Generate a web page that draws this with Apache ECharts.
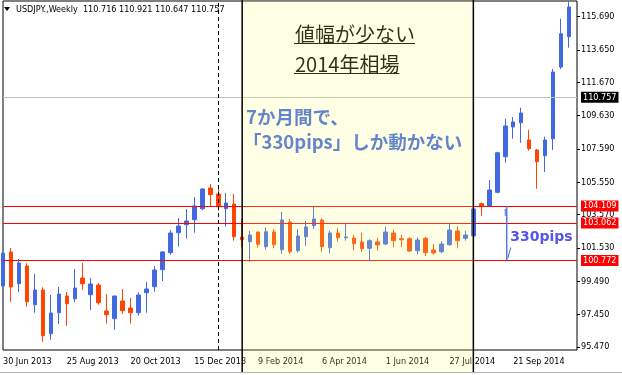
<!DOCTYPE html>
<html><head><meta charset="utf-8">
<script src="https://cdn.jsdelivr.net/npm/echarts@6/dist/echarts.min.js"></script>
<style>html,body{margin:0;padding:0;background:#fff}#c{width:622px;height:375px}</style>
</head><body><div id="c"></div>
<script>
const dates = ['30 Jun 2013','7 Jul 2013','14 Jul 2013','21 Jul 2013','28 Jul 2013','4 Aug 2013','11 Aug 2013','18 Aug 2013',
'25 Aug 2013','1 Sep 2013','8 Sep 2013','15 Sep 2013','22 Sep 2013','29 Sep 2013','6 Oct 2013','13 Oct 2013',
'20 Oct 2013','27 Oct 2013','3 Nov 2013','10 Nov 2013','17 Nov 2013','24 Nov 2013','1 Dec 2013','8 Dec 2013',
'15 Dec 2013','22 Dec 2013','29 Dec 2013','5 Jan 2014','12 Jan 2014','19 Jan 2014','26 Jan 2014','2 Feb 2014',
'9 Feb 2014','16 Feb 2014','23 Feb 2014','2 Mar 2014','9 Mar 2014','16 Mar 2014','23 Mar 2014','30 Mar 2014',
'6 Apr 2014','13 Apr 2014','20 Apr 2014','27 Apr 2014','4 May 2014','11 May 2014','18 May 2014','25 May 2014',
'1 Jun 2014','8 Jun 2014','15 Jun 2014','22 Jun 2014','29 Jun 2014','6 Jul 2014','13 Jul 2014','20 Jul 2014',
'27 Jul 2014','3 Aug 2014','10 Aug 2014','17 Aug 2014','24 Aug 2014','31 Aug 2014','7 Sep 2014','14 Sep 2014',
'21 Sep 2014','28 Sep 2014','5 Oct 2014','12 Oct 2014','19 Oct 2014','26 Oct 2014','2 Nov 2014','9 Nov 2014','16 Nov 2014'];

const opens = [99.204,101.286,99.345,100.428,98.059,98.959,96.284,97.570,98.592,98.426,99.694,98.671,99.265,97.674,97.202,98.286,
97.857,97.570,98.794,99.161,100.202,101.243,102.467,102.957,103.263,103.936,105.203,104.836,103.936,104.224,102.204,101.916,
102.510,101.610,102.510,101.426,103.122,101.365,102.222,102.896,103.245,101.549,102.449,102.161,102.143,101.898,101.512,101.898,
101.775,102.449,102.100,102.100,101.365,102.124,101.408,101.304,101.732,102.571,102.124,102.265,104.242,104.101,104.940,107.120,
108.938,109.201,108.142,107.530,107.181,108.221,112.611,114.466];
const closes = [101.206,99.143,100.612,98.243,98.959,96.162,97.551,98.714,98.120,99.082,99.345,99.327,98.181,97.447,98.592,97.692,
97.570,98.653,99.020,100.184,101.286,102.449,102.877,103.184,104.101,105.142,104.793,104.059,104.285,102.222,102.038,102.326,
101.757,102.528,101.732,103.245,101.304,102.265,102.816,103.306,101.610,102.449,102.161,102.204,101.794,101.488,101.977,101.714,
102.510,101.977,102.038,101.347,102.020,101.243,101.224,101.775,102.632,101.977,102.326,103.918,104.101,105.081,107.364,109.000,
109.244,109.795,107.609,106.813,108.142,112.305,114.649,116.284];
const lows = [99.143,98.243,98.836,97.937,97.570,95.795,95.917,96.878,96.774,98.224,98.977,97.735,98.059,96.896,96.529,97.508,
96.896,97.386,97.570,98.855,99.510,101.120,101.610,102.100,102.467,103.838,104.059,103.814,102.834,101.977,101.592,100.692,
101.549,101.426,101.512,101.182,101.182,101.243,101.671,102.693,101.304,101.206,101.916,101.977,101.390,101.304,100.796,101.365,
101.714,101.573,101.592,101.286,101.145,101.040,101.120,101.206,101.671,101.512,101.977,102.185,103.490,104.059,104.879,106.752,
108.221,107.977,107.487,105.161,106.183,107.530,112.488,113.792];
const highs = [101.286,101.530,100.857,100.594,99.939,99.125,98.653,99.143,98.836,100.245,100.612,99.694,99.388,98.714,98.600,99.020,
98.469,98.818,99.449,100.428,101.347,102.632,103.367,103.918,104.652,105.185,105.448,105.326,104.897,104.836,103.306,102.571,
102.530,102.797,102.693,103.734,103.306,102.693,103.184,104.059,103.348,102.590,102.736,103.018,102.326,102.467,102.063,102.161,
102.834,102.650,102.344,102.185,102.185,102.204,101.775,101.940,103.061,102.859,102.571,104.163,104.303,105.693,107.426,109.446,
109.550,110.119,108.772,107.591,108.344,112.488,115.568,116.608];

const yTickLabels = [95.470, 97.450, 99.490, 101.530, 103.570, 105.550, 107.590, 109.630, 111.670, 113.650, 115.690];
const levelLines = [104.109, 103.062, 100.772];
const bidPrice = 110.757;
const symbolName = 'USDJPY.,Weekly';
const headerValues = ['110.716', '110.921', '110.647', '110.757'];
const separatorDate = '5 Jan 2014';
const rangeStart = '26 Jan 2014';
const rangeEnd = '17 Aug 2014';
const pipsDate = '14 Sep 2014';
const titleLines = ['値幅が少ない', '2014年相場'];
const noteLines = ['7か月間で、', '「330pips」しか動かない'];
const pipsText = '330pips';

const FONT = '"DejaVu Sans Condensed","DejaVu Sans",sans-serif';
const CJK = '"Noto Sans CJK JP",sans-serif';
const ohlc = opens.map((o, i) => [o, closes[i], lows[i], highs[i]]);

const chart = echarts.init(document.getElementById('c'), null, {renderer: 'canvas'});

const priceLabel = (bg) => ({
  show: true, position: 'end', distance: 4,
  formatter: p => Number(p.value).toFixed(3),
  backgroundColor: bg, color: '#fff', padding: [1, 2, 1, 2],
  fontSize: 9, lineHeight: 9, fontFamily: FONT
});

chart.setOption({
  animation: false,
  backgroundColor: '#fff',
  grid: {left: 1, right: 45, top: 1, height: 349, show: true, borderColor: '#000', borderWidth: 1, backgroundColor: 'transparent'},
  xAxis: {
    type: 'category', data: dates, boundaryGap: false,
    axisLine: {show: false}, axisTick: {show: false}, splitLine: {show: false},
    axisLabel: {interval: (i) => i % 8 === 0 && i < 72, align: 'left', margin: 7,
      fontSize: 9, fontFamily: FONT, color: '#000'}
  },
  yAxis: {
    type: 'value', position: 'right', min: 95.286, max: 116.651,
    splitLine: {show: false}, axisLine: {show: false},
    axisTick: {show: true, length: 3, lineStyle: {color: '#000'}, customValues: yTickLabels},
    axisLabel: {customValues: yTickLabels, formatter: v => v.toFixed(3), fontSize: 9,
      fontFamily: FONT, color: '#000', margin: 4}
  },
  series: [{
    type: 'candlestick', data: ohlc, barWidth: 4,
    itemStyle: {color: '#4169E1', color0: '#FF4500', borderColor: '#4169E1', borderColor0: '#FF4500', borderWidth: 1},
    markLine: {
      silent: true, symbol: 'none', animation: false, precision: 3,
      data: [
        {yAxis: bidPrice, lineStyle: {color: '#c0c0c0', width: 1, type: 'solid'}, label: priceLabel('#000')},
        ...levelLines.map(v => ({yAxis: v, lineStyle: {color: '#ff0000', width: 1, type: 'solid'}, label: priceLabel('#ff0000')})),
        {xAxis: separatorDate, lineStyle: {color: '#000', width: 1, type: [4, 3]}, label: {show: false}}
      ]
    }
  }]
});

function textWidth(t, font) {
  const c = document.createElement('canvas').getContext('2d');
  c.font = font; return c.measureText(t).width;
}

const xPix = d => chart.convertToPixel({xAxisIndex: 0}, dates.indexOf(d));
const yPix = v => chart.convertToPixel({yAxisIndex: 0}, v);

const xL = xPix(rangeStart), xR = xPix(rangeEnd);
const xP = xPix(pipsDate) + 1.5;
const yT = yPix(levelLines[0]), yB = yPix(levelLines[2]);

const titleFont = '20px ' + CJK;
const tw0 = textWidth(titleLines[0], titleFont), tw1 = textWidth(titleLines[1], titleFont);

const g = [
  // header
  {type: 'polygon', shape: {points: [[4, 7], [10, 7], [7, 11]]}, style: {fill: '#000'}, z: 120, silent: true},
  {type: 'text', x: 16, y: 10, z: 120, silent: true,
   style: {text: symbolName + '  ' + headerValues.join(' '), fontSize: 9, fontFamily: FONT, fill: '#000', verticalAlign: 'middle'}},
  // titles (under the translucent overlay)
  {type: 'text', x: 295, y: 34, z: 50, silent: true,
   style: {text: titleLines[0], fontSize: 20, fontFamily: CJK, fill: '#000', verticalAlign: 'middle'}},
  {type: 'line', z: 50, silent: true, shape: {x1: 294, y1: 43.5, x2: 295 + tw0, y2: 43.5}, style: {stroke: '#000', lineWidth: 1}},
  {type: 'text', x: 295, y: 64, z: 50, silent: true,
   style: {text: titleLines[1], fontSize: 20, fontFamily: CJK, fill: '#000', verticalAlign: 'middle'}},
  {type: 'line', z: 50, silent: true, shape: {x1: 294, y1: 73.5, x2: 295 + tw1, y2: 73.5}, style: {stroke: '#000', lineWidth: 1}},
  {type: 'text', x: 246, y: 117, z: 50, silent: true,
   style: {text: noteLines[0], fontSize: 18.5, fontWeight: 'bold', fontFamily: CJK, fill: '#4169E1', verticalAlign: 'middle'}},
  {type: 'text', x: 243, y: 142, z: 50, silent: true,
   style: {text: noteLines[1], fontSize: 18.5, fontWeight: 'bold', fontFamily: CJK, fill: '#4169E1', verticalAlign: 'middle'}},
  // overlay band
  {type: 'rect', z: 100, silent: true, shape: {x: xL, y: 1, width: xR - xL, height: 371},
   style: {fill: 'rgba(255,255,115,0.19)'}},
  {type: 'line', z: 101, silent: true, shape: {x1: xL, y1: 0, x2: xL, y2: 372}, style: {stroke: '#000', lineWidth: 1.5}},
  {type: 'line', z: 101, silent: true, shape: {x1: xR, y1: 0, x2: xR, y2: 372}, style: {stroke: '#000', lineWidth: 1.5}},
  {type: 'line', z: 101, silent: true, shape: {x1: 0, y1: 372.5, x2: 622, y2: 372.5}, style: {stroke: '#b0b0b0', lineWidth: 1}},
  // 330pips measure line
  {type: 'line', z: 110, silent: true, shape: {x1: xP, y1: yT, x2: xP, y2: yB}, style: {stroke: '#4169E1', lineWidth: 1.3}},
  {type: 'line', z: 110, silent: true, shape: {x1: xP - 1.5, y1: yT + 3, x2: xP - 1.5, y2: yT + 10}, style: {stroke: '#4169E1', lineWidth: 1}},
  {type: 'line', z: 110, silent: true, shape: {x1: xP + 1, y1: yB - 2, x2: xP + 4, y2: yB - 13}, style: {stroke: '#4169E1', lineWidth: 1}},
  {type: 'text', x: xP + 3.5, y: (yT + yB) / 2 + 4, z: 110, silent: true,
   style: {text: pipsText, fontSize: 14, fontWeight: 'bold', fontFamily: '"DejaVu Sans",sans-serif', fill: '#5555ee', verticalAlign: 'middle'}}
];
chart.setOption({graphic: g});
</script></body></html>
